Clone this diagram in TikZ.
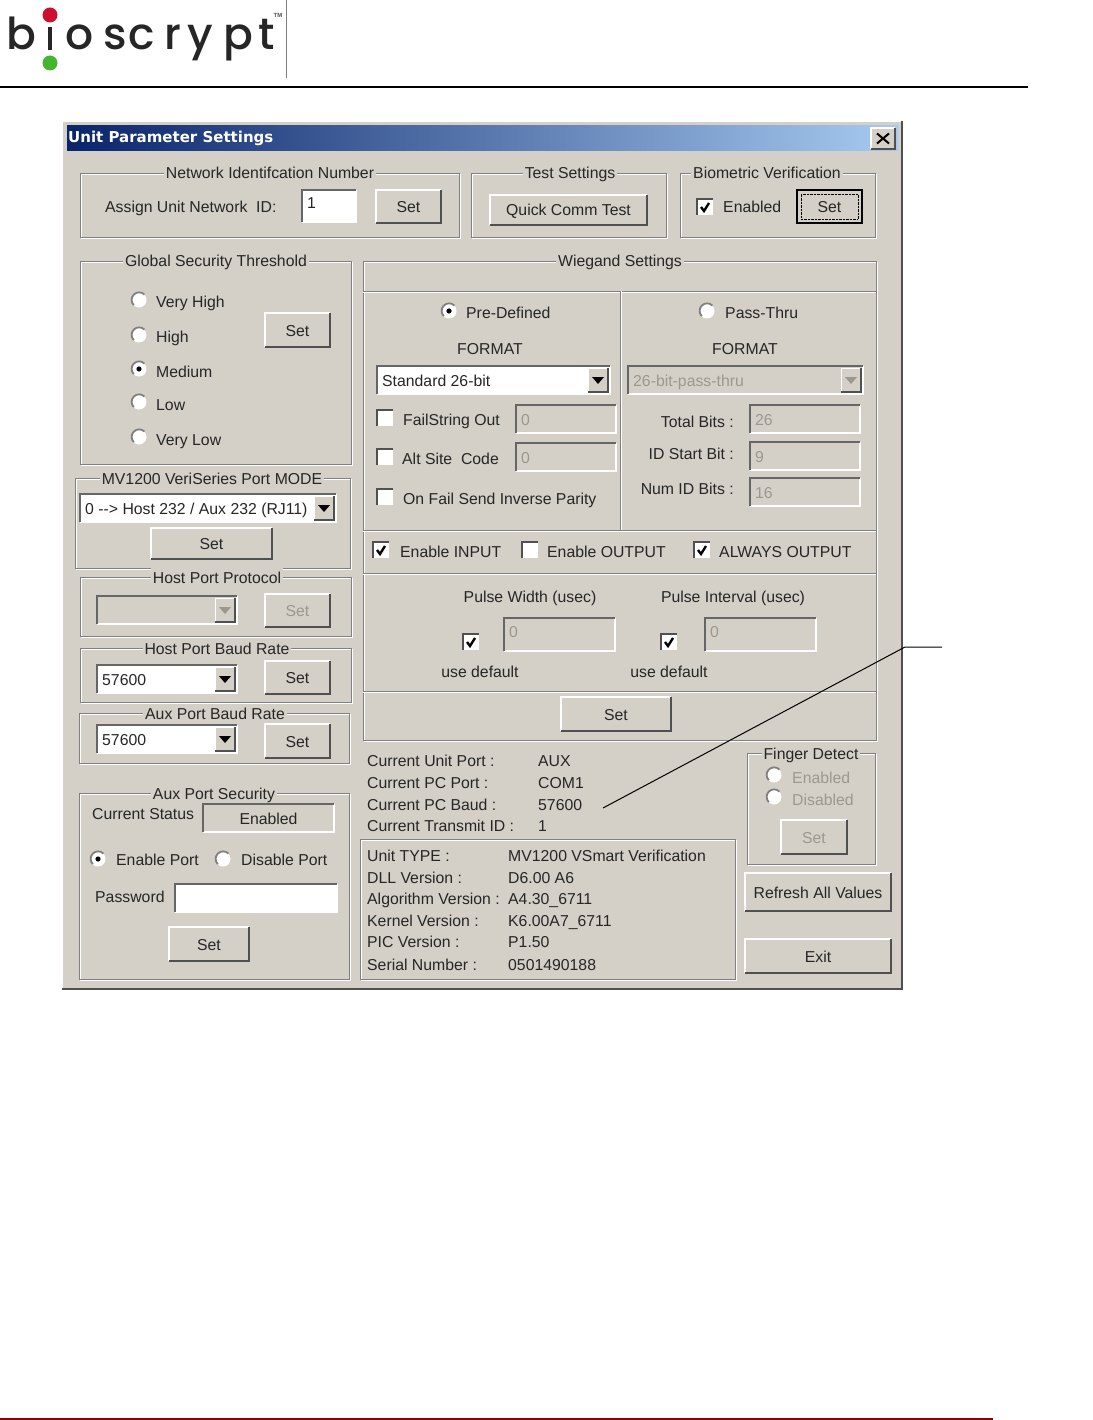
\documentclass[tikz,border=0pt]{standalone}
\usepackage{fontspec}
\setmainfont{Liberation Sans}
\newfontfamily\logofont{Poppins Medium}
\newfontfamily\titlefont{DejaVu Sans}
\definecolor{winface}{HTML}{D4D0C8}
\definecolor{groove}{HTML}{808080}
\definecolor{bevel}{HTML}{505050}
\definecolor{sunk}{HTML}{666666}
\definecolor{greyed}{HTML}{9C9890}
\definecolor{titleleft}{HTML}{0A246A}
\definecolor{titleright}{HTML}{A6CAF0}
\definecolor{logored}{HTML}{CC1030}
\definecolor{logogreen}{HTML}{44B52E}
\tikzset{
	lbl/.style={inner sep=0pt,text height=15.5pt,text depth=3.5pt,font=\fontsize{15.8}{18}\selectfont,text=black!85,/utils/exec=\def\dropcol{black}},
	greyedlbl/.style={lbl,text=greyed,/utils/exec=\def\dropcol{greyed}},
	box/.style={inner sep=0pt,outer sep=0pt,fill=#1},
	box/.default=winface,
	grouptitle/.style={lbl,fill=winface,inner xsep=2pt},
	logoletter/.style={inner sep=0pt,anchor=base,font=\logofont\fontsize{44}{44}\selectfont,text=black!85},
}
% raised button
\newcommand{\raised}[7][lbl]{
	\node[box,minimum width={(#5-#3)*1pt},minimum height={(#6-#4)*1pt}] (#2) at ({(#3+#5)/2},{(#4+#6)/2}) {};
	\node[#1] (#2txt) at (#2.center) {#7};
	\draw[white,line width=1.5pt] (#2.south west)|-(#2.north east);
	\draw[bevel,line width=2pt] (#2.south west)-|(#2.north east);
}
% sunken field, text at its left
\newcommand{\sunken}[8][lbl]{
	\node[box=#7,minimum width={(#5-#3)*1pt},minimum height={(#6-#4)*1pt}] (#2) at ({(#3+#5)/2},{(#4+#6)/2}) {};
	\node[#1,anchor=west,xshift=5pt] (#2txt) at (#2.west) {#8};
	\draw[white,line width=1.5pt] (#2.south west)-|(#2.north east);
	\draw[sunk,line width=1.5pt] (#2.south west)|-(#2.north east);
}
% combo box with its drop button
\newcommand{\combo}[8][lbl]{
	\sunken[#1]{#2}{#3}{#4}{#5}{#6}{#7}{#8}
	\node[box,minimum width=20pt,minimum height={(#6-#4-4)*1pt},anchor=east,xshift=-2pt] (#2drop) at (#2.east) {};
	\draw[white] (#2drop.south west)|-(#2drop.north east);
	\draw[bevel,line width=1.5pt] (#2drop.south west)-|(#2drop.north east);
	\fill[#1,fill=\dropcol] (#2drop.center) ++(-6,-3) -- ++(12,0) -- ++(-6,7) -- cycle;
}
% etched group frame
\newcommand{\etched}[7]{
	\coordinate (#1a) at (#2,#3);
	\coordinate (#1b) at (#4,#5);
	\draw[white] (#2+1,#3+1) rectangle (#4+1,#5+1);
	\draw[groove] (#1a) rectangle (#1b);
	\node[grouptitle] (#1title) at (#6,#3) {#7};
}
\newcommand{\radiobtn}[4][black]{
	\node[circle,fill=white,minimum size=15pt,inner sep=0pt] (#2) at (#3,#4) {};
	\draw[groove,line width=1.8pt] (#2.45) arc[start angle=45,end angle=225,radius=7.5pt];
	\fill[#1] (#2.center) circle (2.6pt);
}
\newcommand{\checkbx}[4][black]{
	\node[box=white,minimum size=16pt] (#2) at (#3,#4) {};
	\draw[bevel,line width=1.5pt] (#2.south west)|-(#2.north east);
	\draw[#1,line width=2.4pt] (#2.center) ++(-4,0) -- ++(3,4) -- ++(5,-8);
}
\begin{document}
\begin{tikzpicture}[x=1pt,y=-1pt]
	\useasboundingbox (0,0) rectangle (1092,1420);
	\foreach \nm/\ch/\xx in {lb/b/21,lo/o/80,ls/s/115,lc/c/142,lr/r/173,ly/y/200,lp/p/238,lt/t/267}
		\node[logoletter] (\nm) at (\xx,50) {\ch};
	\node[inner sep=0pt,fill=black!85,minimum width=4.5pt,minimum height=23pt] (listem) at (50,38.5) {};
	\node[circle,fill=logored,minimum size=15pt,inner sep=0pt] (reddot) at (50,15) {};
	\node[circle,fill=logogreen,minimum size=15pt,inner sep=0pt] (greendot) at (50,63) {};
	\node[inner sep=0pt,font=\bfseries\fontsize{6}{6}\selectfont,text=black!70] (tm) at (278,15.5) {TM};
	\coordinate (logoa) at (286,0);
	\coordinate (logob) at (286,78);
	\draw[groove] (logoa)--(logob);
	\coordinate (headl) at (0,87);
	\coordinate (headr) at (1028,87);
	\draw[black,line width=2pt] (headl)--(headr);
	\coordinate (footl) at (0,1419);
	\coordinate (footr) at (993,1419);
	\draw[red!55!black,line width=2pt] (footl)--(footr);

	% dialog
	\node[box,minimum width=840pt,minimum height=868pt] (dialog) at (482,555) {};
	\draw[white,line width=1.5pt] (dialog.south west)|-(dialog.north east);
	\draw[bevel,line width=2.5pt] (dialog.south west)-|(dialog.north east);
	\shade[left color=titleleft,right color=titleright] (67,126) rectangle (898,151);
	\node[inner sep=0pt,anchor=west,text=white,font=\titlefont\bfseries\fontsize{15}{18}\selectfont] (caption) at (68,138.5) {Unit Parameter Settings};
	\raised{close}{871}{128}{895}{149}{}
	\draw[black,line width=2pt] (close.center) ++(-6,-5) -- ++(12,10) ++(-12,0) -- ++(12,-10);

	\etched{net}{80}{173}{459}{237}{270}{Network Identifcation Number}
	\etched{test}{471}{173}{666}{237}{570}{Test Settings}
	\etched{bio}{680}{173}{875}{237}{767}{Biometric Verification}
	\etched{gst}{80}{261}{351}{464}{216}{Global Security Threshold}
	\etched{mode}{75}{478}{350}{568}{212}{MV1200 VeriSeries Port MODE}
	\etched{hpp}{80}{577}{351}{636}{217}{Host Port Protocol}
	\etched{hbr}{80}{648}{351}{702}{217}{Host Port Baud Rate}
	\etched{abr}{79}{713}{349}{763}{215}{Aux Port Baud Rate}
	\etched{aps}{79}{793}{349}{979}{214}{Aux Port Security}
	\etched{fng}{747}{753}{875}{864}{811}{Finger Detect}
	\draw[white] (361,840) rectangle (736,980);
	\draw[groove] (360,839) rectangle (735,979);

	% wiegand frame
	\etched{wg}{363}{261}{876}{740}{620}{Wiegand Settings}
	\foreach \yy in {291,530,573,691} {
		\draw[groove] (363,\yy)--(876,\yy);
		\draw[white] (363,\yy+1)--(876,\yy+1);
	}
	\draw[groove] (620,291)--(620,530);
	\draw[white] (621,291)--(621,530);

	% buttons
	\foreach \nm/\xa/\ya/\xb/\yb/\txt in {setid/376/190/441/223/Set,quick/490/195/647/225/Quick Comm Test,setgst/265/313/330/347/Set,setmode/151/528/272/559/Set,sethb/265/661/330/694/Set,setab/265/724/330/758/Set,setsec/169/927/249/961/Set,setwg/561/697/671/731/Set,refresh/745/873/891/911/Refresh All Values,exit/745/939/891/973/Exit} {
		\raised{\nm}{\xa}{\ya}{\xb}{\yb}{\txt}
	}
	\raised[greyedlbl]{sethp}{265}{594}{330}{627}{Set}
	\raised[greyedlbl]{setfng}{781}{820}{847}{854}{Set}
	\raised{setbio}{797}{190}{862}{223}{Set}
	\draw[black,line width=1.5pt] (setbio.south west) rectangle (setbio.north east);
	\draw[black,densely dotted] ([shift={(4pt,4pt)}]setbio.south west) rectangle ([shift={(-4pt,-4pt)}]setbio.north east);

	% fields
	\sunken[lbl,yshift=3pt]{netid}{302}{190}{356}{222}{white}{1}
	\sunken{passwd}{175}{884}{337}{912}{white}{}
	\foreach \nm/\xa/\ya/\xb/\yb/\txt in {failv/516/405/616/433/0,altv/516/443/616/471/0,totv/750/405/860/433/26,idv/750/442/860/470/9,numv/750/478/860/506/16} {
		\sunken[greyedlbl]{\nm}{\xa}{\ya}{\xb}{\yb}{winface}{\txt}
	}
	\foreach \nm/\xa/\xb in {pwv/504/615,piv/705/816} {
		\sunken[greyedlbl,yshift=3pt]{\nm}{\xa}{618}{\xb}{651}{winface}{0}
	}
	\sunken{status}{203}{804}{334}{832}{winface}{}
	\node[lbl] (statusval) at (status.center) {Enabled};
	\combo{cmode}{80}{494}{336}{522}{white}{0 {-}{-}> Host 232 / Aux 232 (RJ11)}
	\combo{chb}{97}{665}{237}{693}{white}{57600}
	\combo{cab}{97}{725}{237}{753}{white}{57600}
	\combo{cfmt}{377}{366}{610}{394}{white}{Standard 26-bit}
	\combo[greyedlbl]{chp}{97}{596}{237}{624}{winface}{}
	\combo[greyedlbl]{cpass}{628}{366}{863}{394}{winface}{26-bit-pass-thru}

	% radios and checks
	\foreach \nm/\xx/\yy/\mk in {rvh/139/300/white,rhi/139/335/white,rmd/139/369/black,rlo/139/402/white,rvl/139/437/white,rpre/449/311/black,rthru/707/311/white,ren/98/859/black,rdis/223/859/white,rfe/774/775/white,rfd/774/797/white} {
		\radiobtn[\mk]{\nm}{\xx}{\yy}
	}
	\foreach \nm/\xx/\yy/\mk in {cbio/705/207/black,cfail/385/418/white,calt/385/457/white,cinv/385/497/white,cin/381/550/black,cout/530/550/white,calw/702/550/black,cdfa/471/642/black,cdfb/669/642/black} {
		\checkbx[\mk]{\nm}{\xx}{\yy}
	}

	% texts at their left end
	\foreach \nm/\xx/\yy/\txt in {tassign/105/207/Assign Unit Network\ \ ID:,tbio/723/207/Enabled,tvh/156/302/Very High,thi/156/336/High,tmd/156/371/Medium,tlo/156/404/Low,tvl/156/439/Very Low,tpre/466/312/Pre-Defined,tthru/725/312/Pass-Thru,tfail/403/419/FailString Out,talt/402/458/Alt Site\ \ Code,tinv/403/498/On Fail Send Inverse Parity,tin/400/551/Enable INPUT,tout/547/551/Enable OUTPUT,talw/719/551/ALWAYS OUTPUT,tcur/92/813/Current Status,ten/116/859/Enable Port,tdis/241/859/Disable Port,tpw/95/896/Password}
		\node[lbl,anchor=west] (\nm) at (\xx,\yy) {\txt};
	\foreach \nm/\xx/\yy/\txt in {tfe/792/777/Enabled,tfd/792/799/Disabled}
		\node[greyedlbl,anchor=west] (\nm) at (\xx,\yy) {\txt};
	\foreach \nm/\yy/\txt/\val in {a/760/Current Unit Port :/AUX,b/782/Current PC Port :/COM1,c/804/Current PC Baud :/57600,d/825/Current Transmit ID :/1} {
		\node[lbl,anchor=west] (port\nm) at (367,\yy) {\txt};
		\node[lbl,anchor=west] (portv\nm) at (538,\yy) {\val};
	}
	\foreach \nm/\yy/\txt/\val in {a/855/Unit TYPE :/MV1200 VSmart Verification,b/877/DLL Version :/D6.00 A6,c/898/Algorithm Version :/A4.30\_6711,d/920/Kernel Version :/K6.00A7\_6711,e/941/PIC Version :/P1.50,f/964/Serial Number :/0501490188} {
		\node[lbl,anchor=west] (info\nm) at (367,\yy) {\txt};
		\node[lbl,anchor=west] (infov\nm) at (508,\yy) {\val};
	}
	\foreach \nm/\yy/\txt in {tott/421/Total Bits :,idt/453/ID Start Bit :,numt/488/Num ID Bits :}
		\node[lbl,anchor=east] (\nm) at (734,\yy) {\txt};
	\foreach \nm/\xx/\yy/\txt in {fmta/490/348/FORMAT,fmtb/745/348/FORMAT,pwt/530/596/Pulse Width (usec),pit/733/596/Pulse Interval (usec),dfa/480/671/use default,dfb/669/671/use default}
		\node[lbl] (\nm) at (\xx,\yy) {\txt};

	% leader
	\coordinate (leada) at (603,808);
	\coordinate (leadb) at (905,647);
	\coordinate (leadc) at (942,647);
	\draw[black,line width=1pt] (leada)--(leadb)--(leadc);
\end{tikzpicture}
\end{document}
